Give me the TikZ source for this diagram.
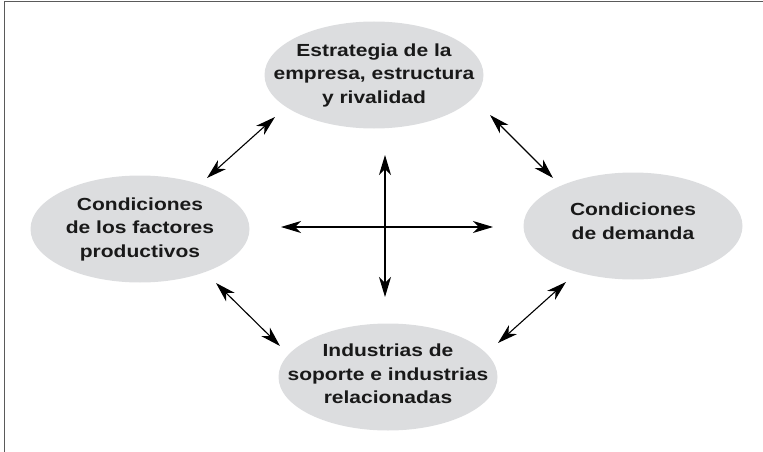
\documentclass[tikz,border=0pt]{standalone}
\usepackage{fontspec}
\setmainfont{Liberation Sans}[FakeStretch=1.2]
\usetikzlibrary{arrows.meta}
\usetikzlibrary{shapes.geometric}
\definecolor{bubblegray}{RGB}{220,221,223}
\definecolor{framegray}{RGB}{90,90,90}
\tikzset{factor/.style={ellipse,fill=bubblegray,minimum width=219pt,minimum height=107pt,inner sep=0pt}}
\tikzset{factortext/.style={align=center,inner sep=0pt,text=black!90,font=\fontsize{17.5}{23.5}\selectfont\bfseries}}
\tikzset{link/.style={{Stealth[length=20pt,width=12pt,inset=6pt]}-{Stealth[length=20pt,width=12pt,inset=6pt]}}}

\begin{document}
\begin{tikzpicture}[
		x = 1pt, y = -1pt, % pixel grid, y downwards
		line width = 1.1pt, % line style
		]
		
		\useasboundingbox (0,0) rectangle (763,452);
		
		% frame
		\draw[framegray, line width=1.5pt] (763,1.5) -- (4.5,1.5) -- (4.5,452);
		
		\node[factor] (firm) at (374,75) {};
		\node[factor] (inputs) at (140,229) {};
		\node[factor] (demand) at (633,226) {};
		\node[factor] (support) at (388,377) {};
		
		\node[factortext] (firm text) at (firm) {Estrategia de la\\empresa, estructura\\y rivalidad};
		\node[factortext] (inputs text) at (inputs) {Condiciones\\de los factores\\productivos};
		\node[factortext] (demand text) at ([yshift=5]demand) {Condiciones\\de demanda};
		\node[factortext] (support text) at ([yshift=3]support) {Industrias de\\soporte e industrias\\relacionadas};
		
		% arrow ends
		\coordinate (fi1) at (275,117);
		\coordinate (fi2) at (207,178);
		\coordinate (fd1) at (490,115);
		\coordinate (fd2) at (553,178);
		\coordinate (is1) at (216,283);
		\coordinate (is2) at (280,346);
		\coordinate (ds1) at (566,282);
		\coordinate (ds2) at (498,343);
		\coordinate (up) at (385,155);
		\coordinate (down) at (385,297);
		\coordinate (left) at (281,227);
		\coordinate (right) at (493,227);
		
		% Ring
		\draw[link] (fi1) -- (fi2);
		\draw[link] (fd1) -- (fd2);
		\draw[link] (is1) -- (is2);
		\draw[link] (ds1) -- (ds2);
		
		% Cross
		\draw[link] (up) -- (down);
		\draw[link] (left) -- (right);
		\end{tikzpicture}
\end{document}
